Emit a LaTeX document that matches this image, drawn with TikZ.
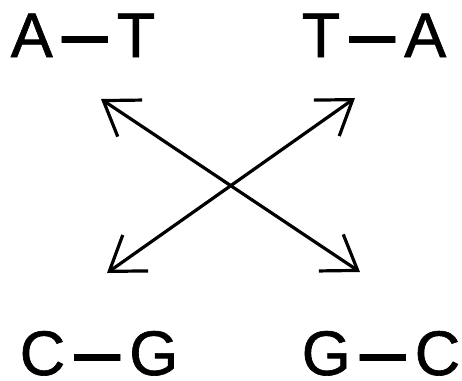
\documentclass[tikz,border=0pt]{standalone}
\usepackage{fontspec}
\setmainfont{Liberation Sans}[FakeBold=1]
\usetikzlibrary{arrows.meta}
\newcommand\pdash{\hspace{4.5pt}\raisebox{-2.3pt}{\resizebox{23pt}{!}{\scalebox{1}[1.9]{—}}}\hspace{4.5pt}}
\begin{document}
\begin{tikzpicture}[x=0.5pt,y=-0.5pt,
  pair/.style={anchor=base,inner sep=0pt,font=\fontsize{31.5}{36}\selectfont},
  link/.style={line width=1.6pt,{Straight Barb[length=16pt,width=22pt,line width=1.6pt]}-{Straight Barb[length=16pt,width=22pt,line width=1.6pt]}}]
\useasboundingbox (0,0) rectangle (462,381);
\node[pair] (at) at (83,57) {A\pdash T};
\node[pair] (ta) at (374,57) {T\pdash A};
\node[pair] (cg) at (99,375) {C\pdash G};
\node[pair] (gc) at (381,375) {G\pdash C};
\coordinate (p1) at (101,99);
\coordinate (p2) at (360,272);
\coordinate (p3) at (355,98);
\coordinate (p4) at (107,273);
\draw[link] (p1) -- (p2);
\draw[link] (p3) -- (p4);
\end{tikzpicture}
\end{document}
